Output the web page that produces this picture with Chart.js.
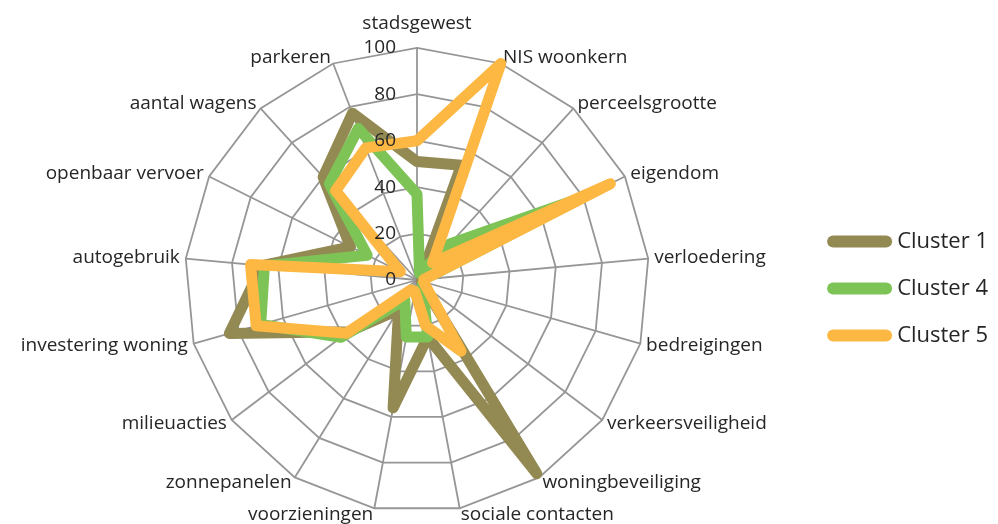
<!DOCTYPE html>
<html>
<head>
<meta charset="utf-8">
<script src="https://cdn.jsdelivr.net/npm/chart.js@4.4.1/dist/chart.umd.min.js"></script>
<style>
    html, body { margin: 0; padding: 0; background: #fff; }
    #wrap { width: 998px; height: 524px; }
</style>
</head>
<body>
<div id="wrap"><canvas id="radar"></canvas></div>
<script>
const categories = [
    'stadsgewest', 'NIS woonkern', 'perceelsgrootte', 'eigendom', 'verloedering',
    'bedreigingen', 'verkeersveiligheid', 'woningbeveiliging', 'sociale contacten',
    'voorzieningen', 'zonnepanelen', 'milieuacties', 'investering woning',
    'autogebruik', 'openbaar vervoer', 'aantal wagens', 'parkeren'
];
const cluster1 = [51, 53, 3, 3, 2, 2, 3, 98, 25, 56, 15, 37, 84, 67, 32, 60, 77];
const cluster4 = [37, 3, 21, 80, 3, 3, 3, 5, 25, 25, 10, 41, 70, 66, 24, 56, 70];
const cluster5 = [60, 100, 10, 93, 3, 3, 5, 36, 20, 5, 5, 38, 72, 72, 8, 52, 61];
const tickValues = [0, 20, 40, 60, 80, 100];

const FONT = '"Open Sans", "Noto Sans", sans-serif';
const TEXT = '#262626';

// tick numbers sit left of the vertical axis, like the Excel original
const leftTicks = {
    id: 'leftTicks',
    afterDatasetsDraw(chart) {
        const r = chart.scales.r;
        const ctx = chart.ctx;
        ctx.save();
        ctx.font = `19px ${FONT}`;
        ctx.fillStyle = TEXT;
        ctx.textAlign = 'right';
        ctx.textBaseline = 'middle';
        tickValues.forEach(v => {
            const d = r.getDistanceFromCenterForValue(v);
            ctx.fillText(String(v), r.xCenter - 21, r.yCenter - d);
        });
        ctx.restore();
    }
};

// Excel puts side labels centred on their spoke end; top label sits above it.
// The padding option below only steers Chart.js' radius fit.
const excelLabels = {
    id: 'excelLabels',
    afterLayout(chart) {
        const r = chart.scales.r;
        (r._pointLabelItems || []).forEach((item, i) => {
            const w = item.right - item.left;
            const h = item.bottom - item.top;
            const deg = Math.round(r.getIndexAngle(i) * 180 / Math.PI) % 360;
            const p = r.getPointPosition(i, r.drawingArea + (deg === 0 ? 13 : 6));
            let left;
            if (deg === 0) {
                item.textAlign = 'center';
                item.y = p.y - h;
                left = p.x - w / 2;
            } else {
                item.textAlign = deg < 180 ? 'left' : 'right';
                item.y = p.y - h / 2;
                left = deg < 180 ? p.x : p.x - w;
            }
            item.x = p.x;
            item.top = item.y;
            item.bottom = item.y + h;
            item.left = left;
            item.right = left + w;
        });
    }
};

function series(label, data, color, order) {
    return {
        label,
        data,
        order,
        borderColor: color,
        backgroundColor: color,
        borderWidth: 11,
        borderJoinStyle: 'round',
        borderCapStyle: 'round',
        fill: false,
        pointRadius: 0,
        pointHoverRadius: 0,
        tension: 0
    };
}

window.addEventListener('DOMContentLoaded', () => {
    new Chart(document.getElementById('radar'), {
        type: 'radar',
        data: {
            labels: categories,
            datasets: [
                series('Cluster 1', cluster1, '#938953', 3),
                series('Cluster 4', cluster4, '#7EC356', 2),
                series('Cluster 5', cluster5, '#FDB843', 1)
            ]
        },
        options: {
            responsive: true,
            maintainAspectRatio: false,
            animation: false,
            layout: { padding: { top: 14, bottom: 0, left: 7, right: 0 } },
            scales: {
                r: {
                    min: 0,
                    max: 100,
                    ticks: { stepSize: 20, display: false },
                    grid: { color: '#969696', lineWidth: 1.8, circular: false },
                    angleLines: { color: '#969696', lineWidth: 1.8 },
                    pointLabels: {
                        color: TEXT,
                        padding: ctx => (ctx.index === 0 ? 0 : (ctx.index === 8 || ctx.index === 9) ? -19 : 8),
                        font: { family: FONT, size: 19 }
                    }
                }
            },
            plugins: {
                tooltip: { enabled: false },
                legend: {
                    position: 'right',
                    align: 'start',
                    title: { display: true, text: ' ', padding: { top: 0, bottom: 177 }, font: { size: 12 } },
                    labels: {
                        usePointStyle: true,
                        pointStyle: 'line',
                        pointStyleWidth: 53,
                        padding: 25,
                        color: TEXT,
                        font: { family: FONT, size: 22 },
                        sort: (a, b) => a.datasetIndex - b.datasetIndex,
                        generateLabels: chart => Chart.defaults.plugins.legend.labels
                            .generateLabels(chart)
                            .map(item => Object.assign(item, { lineCap: 'round', lineWidth: 12 }))
                    }
                }
            }
        },
        plugins: [leftTicks, excelLabels]
    });
});
</script>
</body>
</html>
